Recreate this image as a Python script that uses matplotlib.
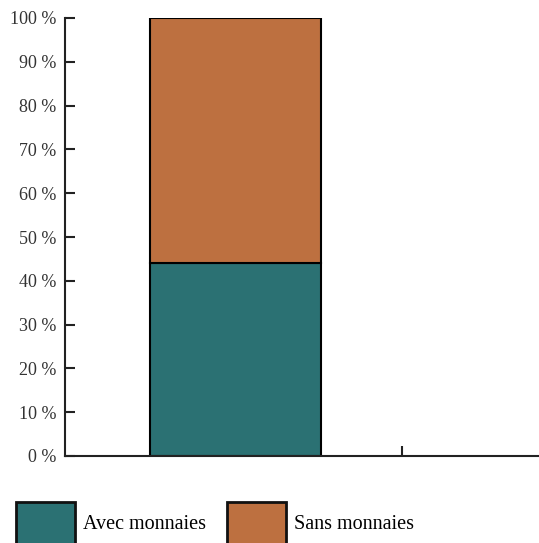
import matplotlib
matplotlib.use("Agg")
import matplotlib.pyplot as plt
from matplotlib.patches import Patch

plt.rcParams['font.family'] = ['Liberation Serif', 'DejaVu Serif']

# Données
categorie = [0]
avec_monnaies = [44]
sans_monnaies = [56]
series = ["Avec monnaies", "Sans monnaies"]
couleurs = ["#2b7173", "#bd7040"]
y_ticks = list(range(0, 101, 10))
y_labels = [f"{v} %" for v in y_ticks]

fig = plt.figure(figsize=(5.39, 5.43), dpi=100)
ax = fig.add_axes([65 / 539, 1 - 456 / 543, 1 - 65 / 539, (456 - 18) / 543])

ax.bar(categorie, avec_monnaies, width=0.5, color=couleurs[0],
       edgecolor="black", linewidth=1.5)
ax.bar(categorie, sans_monnaies, width=0.5, bottom=avec_monnaies,
       color=couleurs[1], edgecolor="black", linewidth=1.5)

ax.set_xlim(-0.5, 0.887)
ax.set_ylim(0, 100)
ax.set_yticks(y_ticks)
ax.set_yticklabels(y_labels, fontsize=13, color="#333333")
ax.set_xticks([0.487])
ax.set_xticklabels([""])

for s in ["top", "right"]:
    ax.spines[s].set_visible(False)
for s in ["left", "bottom"]:
    ax.spines[s].set_linewidth(1.5)
    ax.spines[s].set_color("#222222")
ax.tick_params(direction="in", length=7, width=1.5, color="#222222", pad=6)

handles = [Patch(facecolor=c, edgecolor="#111111", linewidth=2) for c in couleurs]
fig.legend(handles, series, loc="lower left", bbox_to_anchor=(18 / 539 - 0.003, -0.004),
           ncol=2, frameon=False, fontsize=14.5, handlelength=2.93, handleheight=2.95,
           handletextpad=0.4, columnspacing=1.0, borderpad=0, borderaxespad=0)

plt.savefig("out.png", dpi=100)
